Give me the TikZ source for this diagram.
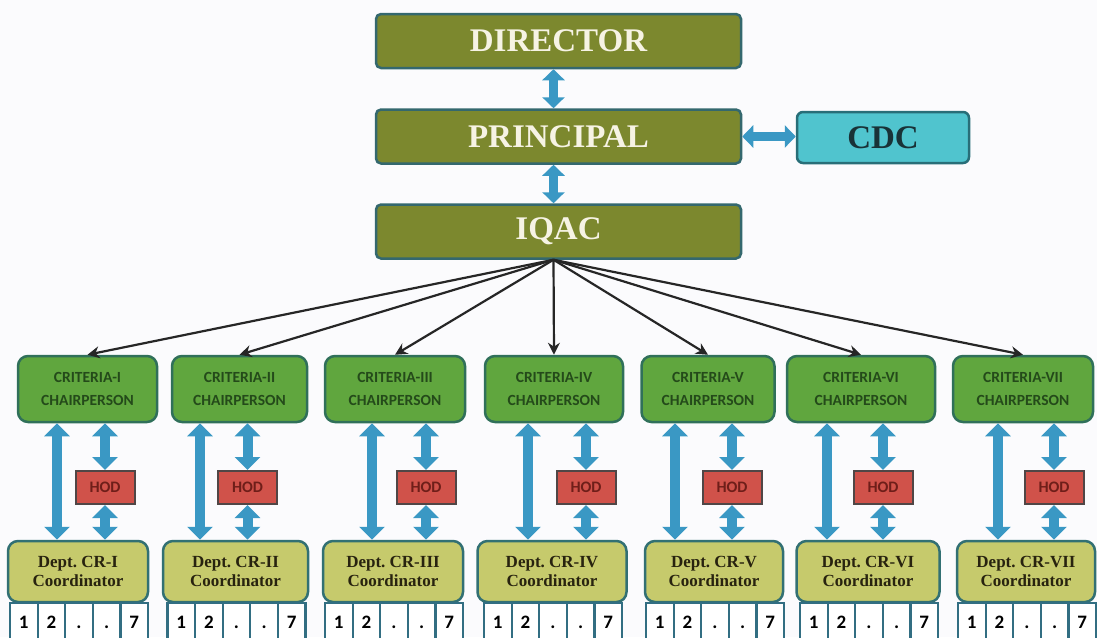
\documentclass[tikz,border=0pt]{standalone}
\usepackage{fontspec}
\setmainfont{Liberation Serif}
\newfontfamily\calib{Carlito}
\newfontfamily\timesb{Liberation Serif}
\usetikzlibrary{arrows.meta,calc}
\definecolor{bgc}{RGB}{251,251,253}
\definecolor{topfill}{RGB}{124,136,46}
\definecolor{topedge}{RGB}{52,104,110}
\definecolor{toptext}{RGB}{246,243,228}
\definecolor{cdcfill}{RGB}{80,196,206}
\definecolor{cdcedge}{RGB}{40,110,120}
\definecolor{cdctext}{RGB}{25,50,55}
\definecolor{critfill}{RGB}{96,166,62}
\definecolor{critedge}{RGB}{48,112,90}
\definecolor{crittext}{RGB}{36,74,26}
\definecolor{hodfill}{RGB}{208,82,74}
\definecolor{hodedge}{RGB}{80,70,70}
\definecolor{hodtext}{RGB}{110,30,25}
\definecolor{coordfill}{RGB}{198,202,108}
\definecolor{coordedge}{RGB}{50,112,115}
\definecolor{coordtext}{RGB}{40,35,15}
\definecolor{celledge}{RGB}{50,110,130}
\definecolor{arrowblue}{RGB}{58,152,196}
\tikzset{
  topbox/.style={draw=topedge, line width=2.5pt, fill=topfill, rounded corners=5pt,
    minimum width=365pt, minimum height=54pt, inner sep=0pt, text=toptext,
    font={\timesb\fontsize{33}{36}\selectfont\bfseries}},
  cdcbox/.style={draw=cdcedge, line width=2.5pt, fill=cdcfill, rounded corners=6pt,
    minimum width=172pt, minimum height=51pt, inner sep=0pt, text=cdctext,
    font={\timesb\fontsize{33}{36}\selectfont\bfseries}},
  critbox/.style={draw=critedge, line width=2.5pt, fill=critfill, rounded corners=10pt,
    minimum height=66pt, inner sep=0pt, text=crittext, align=center,
    font={\calib\fontsize{15.5}{23}\selectfont\bfseries}},
  hodbox/.style={draw=hodedge, line width=2pt, fill=hodfill,
    minimum width=59pt, minimum height=33pt, inner sep=0pt, text=hodtext,
    font={\calib\fontsize{16}{18}\selectfont\bfseries}},
  coordbox/.style={draw=coordedge, line width=2.5pt, fill=coordfill, rounded corners=10pt,
    minimum height=61pt, inner sep=0pt, text=coordtext, align=center,
    font={\timesb\fontsize{17}{19}\selectfont\bfseries}},
  cellbox/.style={draw=celledge, line width=2.2pt, fill=white,
    minimum width=27.6pt, minimum height=38pt, inner sep=0pt, text=black,
    text height=13pt, text depth=0pt,
    font={\calib\fontsize{19}{20}\selectfont\bfseries}},
  barr/.style={draw=arrowblue, line width=10pt,
    {Triangle[width=25pt,length=13pt]}-{Triangle[width=25pt,length=13pt]}},
  tarr/.style={draw=arrowblue, line width=9pt,
    {Triangle[width=22pt,length=11pt]}-{Triangle[width=22pt,length=11pt]}},
  thinarr/.style={draw=black!85, line width=2.2pt, -{Stealth[length=12pt,width=12pt]}}
}
\begin{document}
\begin{tikzpicture}[x=1pt,y=-1pt]
\clip (0,0) rectangle (1097,637);
\fill[bgc] (0,0) rectangle (1097,637);
% top level
\node[topbox] (dir) at (558.5,41) {DIRECTOR};
\node[topbox] (pri) at (558.5,136.5) {PRINCIPAL};
\node[topbox] (iq) at (558.5,231.5) {IQAC};
\node[cdcbox] (cdc) at (883,137.5) {CDC};
\draw[tarr] ([xshift=-5pt]dir.south) -- ([xshift=-5pt]pri.north);
\draw[tarr] ([xshift=-5pt]pri.south) -- ([xshift=-5pt]iq.north);
\draw[tarr] (pri.east) -- (pri.east -| cdc.west);
% columns
\foreach \i/\cx/\cw/\dx/\dw/\hx/\lx/\rom in {
  1/87.5/139/78/140/105/57/I,
  2/239.5/135/235.5/145/247.5/200/II,
  3/395/140/393/140/426/372/III,
  4/554/138/552/149/586/528/IV,
  5/708/133/714/138/732/675/V,
  6/861/148/868/143/883/827/VI,
  7/1023/140/1026/138/1054/998/VII}{
  \node[critbox, minimum width=\cw pt] (c\i) at (\cx,389) {CRITERIA-\rom\\CHAIRPERSON};
  \node[coordbox, minimum width=\dw pt] (d\i) at (\dx,571.5) {Dept.~CR-\rom\\Coordinator};
  \node[hodbox] (h\i) at (\hx,487.5) {HOD};
  \coordinate (l\i) at (\lx,480);
  \draw[barr] (c\i.south -| l\i) -- (d\i.north -| l\i);
  \draw[barr] (c\i.south -| h\i) -- (h\i.north);
  \draw[barr] (h\i.south) -- (d\i.north -| h\i);
  \draw[thinarr] ([xshift=-5pt]iq.south) -- (c\i.north);
  \foreach \k/\t in {1/1,2/2,3/.,4/.,5/7}{
    \node[cellbox] (n\i\k) at ({\dx-68+27.6*\k-13.8},622) {\t};
  }
}
\end{tikzpicture}
\end{document}
